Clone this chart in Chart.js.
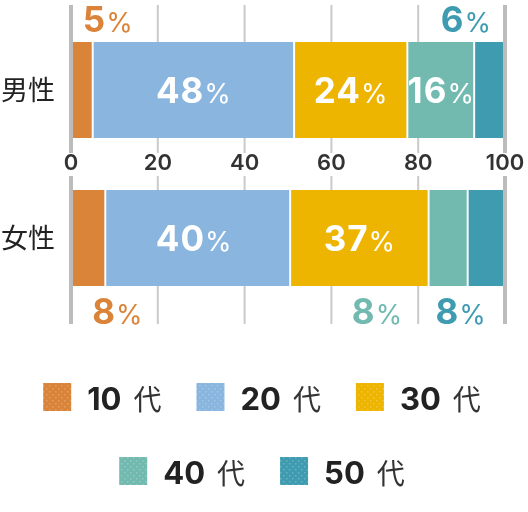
<!DOCTYPE html>
<html><head><meta charset="utf-8">
<script src="https://cdn.jsdelivr.net/npm/chart.js@4.4.1/dist/chart.umd.min.js"></script>
<style>html,body{margin:0;padding:0;background:#fff;} #wrap{width:528px;height:512px;position:relative;}</style>
</head><body><div id="wrap"><canvas id="c"></canvas></div>
<script>
// ---- data ----
const categories = ['男性', '女性'];
const seriesNames = ['10', '20', '30', '40', '50'];
const seriesSuffix = '代';
const seriesColors = ['#DA843A', '#89B5DF', '#EEB500', '#72BAB0', '#3F9BB0'];
// bar lengths as drawn (share of 100)
const share10 = [5.0, 7.9];
const share20 = [46.4, 42.6];
const share30 = [26.1, 31.9];
const share40 = [15.4, 9.0];
const share50 = [7.1, 8.6];
// printed percentage labels
const label10 = ['5', '8'];
const label20 = ['48', '40'];
const label30 = ['24', '37'];
const label40 = ['16', '8'];
const label50 = ['6', '8'];
const xTicks = [0, 20, 40, 60, 80, 100];

const shares = [share10, share20, share30, share40, share50];
const labels = [label10, label20, label30, label40, label50];

// ---- label placement (style, not data) ----
const placement = [
  [{pos:'above', align:'left', dx:1}, {pos:'in', dx:0}, {pos:'in', dx:0}, {pos:'in', dx:0}, {pos:'above', align:'right', dx:1.5}],
  [{pos:'below', align:'left', dx:4}, {pos:'in', dx:-4}, {pos:'in', dx:0}, {pos:'below', align:'right', dx:-46}, {pos:'below', align:'right', dx:-0.5}]
];

const NUM_FONT = "'Inter', 'Open Sans', sans-serif";
const CJK_FONT = "'Noto Sans CJK JP', 'Noto Sans', sans-serif";

function drawPct(ctx, text, x, baseline, align, color) {
  ctx.save();
  ctx.fillStyle = color;
  ctx.textBaseline = 'alphabetic';
  ctx.textAlign = 'left';
  const dFont = '700 35px ' + NUM_FONT;
  const pFont = '400 27px ' + NUM_FONT;
  ctx.font = dFont;
  if ('letterSpacing' in ctx) ctx.letterSpacing = '1px';
  const wd = ctx.measureText(text).width;
  ctx.font = pFont;
  if ('letterSpacing' in ctx) ctx.letterSpacing = '0px';
  const wp = ctx.measureText('%').width;
  const gap = 0;
  const total = wd + gap + wp;
  let left = x;
  if (align === 'center') left = x - total / 2;
  else if (align === 'right') left = x - total;
  ctx.font = dFont;
  if ('letterSpacing' in ctx) ctx.letterSpacing = '1px';
  ctx.fillText(text, left, baseline);
  ctx.font = pFont;
  if ('letterSpacing' in ctx) ctx.letterSpacing = '0px';
  ctx.fillText('%', left + wd + gap, baseline);
  ctx.restore();
}

function makePattern(ctx, color) {
  const c = document.createElement('canvas');
  c.width = 6; c.height = 6;
  const g = c.getContext('2d');
  g.fillStyle = color; g.fillRect(0, 0, 6, 6);
  g.fillStyle = 'rgba(255,255,255,0.22)';
  g.fillRect(1, 1, 1.5, 1.5); g.fillRect(4, 4, 1.5, 1.5);
  return ctx.createPattern(c, 'repeat');
}

const gridPlugin = {
  id: 'gridLines',
  drawLines(chart, edges) {
    const ctx = chart.ctx, xs = chart.scales.x;
    const top = 5, bottom = 324, gapTop = 153, gapBottom = 176;
    ctx.save();
    xTicks.forEach((v) => {
      const isEdge = (v === xTicks[0] || v === xTicks[xTicks.length - 1]);
      if (isEdge !== edges) return;
      const px = xs.getPixelForValue(v);
      ctx.strokeStyle = isEdge ? '#bcbcbc' : '#cacaca';
      ctx.lineWidth = isEdge ? 4 : 2;
      ctx.beginPath();
      ctx.moveTo(px, top); ctx.lineTo(px, gapTop);
      ctx.moveTo(px, gapBottom); ctx.lineTo(px, bottom);
      ctx.stroke();
    });
    ctx.restore();
  },
  beforeDatasetsDraw(chart) { this.drawLines(chart, false); },
  afterDatasetsDraw(chart) {
    this.drawLines(chart, true);
    const ctx = chart.ctx;
    chart.data.datasets.forEach((ds, i) => {
      const meta = chart.getDatasetMeta(i);
      meta.data.forEach((el, j) => {
        const p = placement[j][i];
        const txt = labels[i][j];
        const left = Math.min(el.x, el.base), right = Math.max(el.x, el.base);
        const cx = (left + right) / 2 + p.dx;
        const topY = el.y - el.height / 2, botY = el.y + el.height / 2;
        if (p.pos === 'in') drawPct(ctx, txt, cx, el.y + 13, 'center', '#ffffff');
        else if (p.pos === 'above') drawPct(ctx, txt, cx, topY - 10, p.align, seriesColors[i]);
        else drawPct(ctx, txt, cx, botY + 38, p.align, seriesColors[i]);
      });
    });
  },
  afterDraw(chart) {
    // legend
    const ctx = chart.ctx;
    const rows = [[0, 1, 2], [3, 4]];
    const rowY = [383, 457];
    const box = 28, boxGap = 16, suffixGap = 12, itemGap = 35;
    const dFont = '700 31px ' + NUM_FONT, sFont = '400 28px ' + CJK_FONT;
    rows.forEach((row, r) => {
      ctx.save();
      const widths = row.map(i => {
        ctx.font = dFont; const wd = ctx.measureText(seriesNames[i]).width;
        ctx.font = sFont; const ws = ctx.measureText(seriesSuffix).width;
        return {wd, ws, w: box + boxGap + wd + suffixGap + ws};
      });
      const total = widths.reduce((a, b) => a + b.w, 0) + itemGap * (row.length - 1);
      let x = 262 - total / 2;
      row.forEach((i, k) => {
        const y = rowY[r];
        ctx.fillStyle = makePattern(ctx, seriesColors[i]);
        ctx.fillRect(x, y, box, box);
        const base = y + box - 1;
        ctx.fillStyle = '#222';
        ctx.textBaseline = 'alphabetic'; ctx.textAlign = 'left';
        ctx.font = dFont;
        ctx.fillText(seriesNames[i], x + box + boxGap, base);
        ctx.fillStyle = '#333';
        ctx.font = sFont;
        ctx.fillText(seriesSuffix, x + box + boxGap + widths[k].wd + suffixGap, base);
        x += widths[k].w + itemGap;
      });
      ctx.restore();
    });
  }
};

new Chart(document.getElementById('c'), {
  type: 'bar',
  data: {
    labels: categories,
    datasets: seriesNames.map((n, i) => ({
      label: n + ' ' + seriesSuffix,
      data: shares[i],
      backgroundColor: seriesColors[i],
      borderColor: '#ffffff',
      borderWidth: {left: 1.3, right: 1.3, top: 0, bottom: 0},
      borderSkipped: false,
      barThickness: 96
    }))
  },
  options: {
    indexAxis: 'y',
    responsive: true,
    maintainAspectRatio: false,
    animation: false,
    layout: {padding: {top: 16, right: 23, bottom: 200, left: 0}},
    plugins: {legend: {display: false}, tooltip: {enabled: false}},
    scales: {
      x: {
        type: 'linear', stacked: true, min: 0, max: 100,
        position: {y: 0.5},
        afterBuildTicks: (s) => { s.ticks = xTicks.map(v => ({value: v})); },
        afterFit: (s) => { s.paddingLeft = 0; s.paddingRight = 0; s.paddingTop = 0; s.paddingBottom = 0; },
        grid: {display: false, drawTicks: false},
        border: {display: false},
        ticks: {padding: -14, autoSkip: false, maxRotation: 0, color: '#333',
          font: {family: NUM_FONT, size: 22, weight: '600'}}
      },
      y: {
        type: 'category', stacked: true,
        afterFit: (s) => { s.width = 71; s.paddingTop = 0; s.paddingBottom = 0; s.paddingLeft = 0; s.paddingRight = 0; },
        grid: {display: false, drawTicks: false},
        border: {display: false},
        ticks: {padding: 16, color: '#222', font: {family: CJK_FONT, size: 27}}
      }
    }
  },
  plugins: [gridPlugin]
});
</script>
</body></html>
